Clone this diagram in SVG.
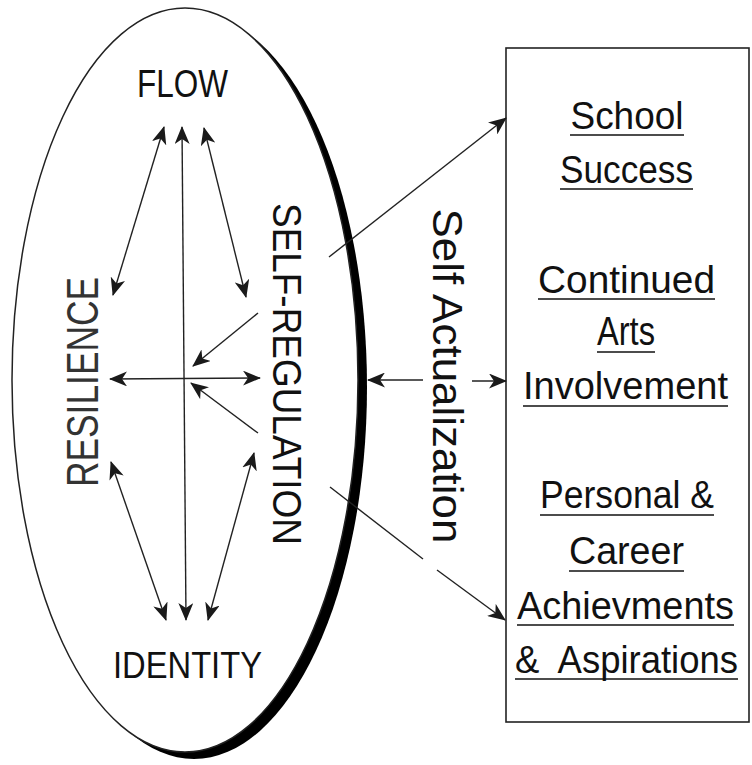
<svg xmlns="http://www.w3.org/2000/svg" width="752" height="765" viewBox="0 0 752 765">
<style>
.t{font-family:"Liberation Sans",Arial,sans-serif;fill:#111;white-space:pre}
.c{stroke:#222;stroke-width:1.4;fill:none}
.u{stroke:#111;stroke-width:1.6}
</style>
<defs>
<marker id="ah" viewBox="0 0 18 15" refX="17" refY="7.5" markerWidth="18" markerHeight="15" markerUnits="userSpaceOnUse" orient="auto-start-reverse">
<path d="M0,0 L18,7.5 L0,15 L5,7.5 z" fill="#1a1a1a"/>
</marker>
</defs>
<rect width="752" height="765" fill="#fff"/>
<g id="ellipse">
<ellipse cx="194" cy="387" rx="173" ry="372" fill="#000"/>
<ellipse cx="185" cy="380" rx="173" ry="372" fill="#fff" stroke="#222" stroke-width="1.5"/>
</g>
<g id="flow"><text class="t" x="182.5" y="97" font-size="38" text-anchor="middle" textLength="91" lengthAdjust="spacingAndGlyphs">FLOW</text></g>
<g id="identity"><text class="t" x="187.5" y="678" font-size="36" text-anchor="middle" textLength="149" lengthAdjust="spacingAndGlyphs">IDENTITY</text></g>
<g id="resilience"><text class="t" x="98" y="382" font-size="44" text-anchor="middle" textLength="210" lengthAdjust="spacingAndGlyphs" transform="rotate(-90 98 382)" style="fill:#333">RESILIENCE</text></g>
<g id="self-regulation"><text class="t" x="273" y="374" font-size="40" text-anchor="middle" textLength="342" lengthAdjust="spacingAndGlyphs" transform="rotate(90 273 374)">SELF-REGULATION</text></g>
<g id="self-actualization"><text class="t" x="433" y="376" font-size="42" text-anchor="middle" textLength="335" lengthAdjust="spacingAndGlyphs" transform="rotate(90 433 376)">Self Actualization</text></g>
<g id="outcomes">
<rect x="506" y="48" width="243" height="674" fill="none" stroke="#222" stroke-width="1.6"/>
<text class="t" x="627" y="129" font-size="38" text-anchor="middle" textLength="113" lengthAdjust="spacingAndGlyphs">School</text>
<line class="u" x1="570" y1="135" x2="684" y2="135"/>
<text class="t" x="626.5" y="183" font-size="38" text-anchor="middle" textLength="133" lengthAdjust="spacingAndGlyphs">Success</text>
<line class="u" x1="560" y1="189" x2="693" y2="189"/>
<text class="t" x="626.5" y="293" font-size="38" text-anchor="middle" textLength="177" lengthAdjust="spacingAndGlyphs">Continued</text>
<line class="u" x1="538" y1="299" x2="715" y2="299"/>
<text class="t" x="626" y="345" font-size="40" text-anchor="middle" textLength="58" lengthAdjust="spacingAndGlyphs">Arts</text>
<line class="u" x1="597" y1="352" x2="655" y2="352"/>
<text class="t" x="625.5" y="399" font-size="38" text-anchor="middle" textLength="205" lengthAdjust="spacingAndGlyphs">Involvement</text>
<line class="u" x1="523" y1="406" x2="728" y2="406"/>
<text class="t" x="627" y="508" font-size="38" text-anchor="middle" textLength="174" lengthAdjust="spacingAndGlyphs">Personal &amp;</text>
<line class="u" x1="540" y1="515" x2="714" y2="515"/>
<text class="t" x="626.5" y="564" font-size="38" text-anchor="middle" textLength="115" lengthAdjust="spacingAndGlyphs">Career</text>
<line class="u" x1="569" y1="571" x2="684" y2="571"/>
<text class="t" x="625.5" y="619" font-size="38" text-anchor="middle" textLength="217" lengthAdjust="spacingAndGlyphs">Achievments</text>
<line class="u" x1="517" y1="625" x2="734" y2="625"/>
<text class="t" x="626.5" y="673" font-size="38" text-anchor="middle" textLength="223" lengthAdjust="spacingAndGlyphs">&amp;  Aspirations</text>
<line class="u" x1="515" y1="679" x2="738" y2="679"/>
</g>
<g id="connectors">
<line class="c" x1="182" y1="127" x2="186" y2="620" stroke-width="2" marker-start="url(#ah)" marker-end="url(#ah)"/>
<line class="c" x1="110" y1="379" x2="260" y2="378" stroke-width="2" marker-start="url(#ah)" marker-end="url(#ah)"/>
<line class="c" x1="164" y1="127" x2="113" y2="295" marker-start="url(#ah)" marker-end="url(#ah)"/>
<line class="c" x1="204" y1="128" x2="246" y2="297" marker-start="url(#ah)" marker-end="url(#ah)"/>
<line class="c" x1="111" y1="462" x2="166" y2="620" marker-start="url(#ah)" marker-end="url(#ah)"/>
<line class="c" x1="254" y1="453" x2="208" y2="620" marker-start="url(#ah)" marker-end="url(#ah)"/>
<line class="c" x1="258" y1="313" x2="193" y2="366" marker-end="url(#ah)"/>
<line class="c" x1="258" y1="433" x2="191" y2="383" marker-end="url(#ah)"/>
<line class="c" x1="329" y1="257" x2="506" y2="118" marker-end="url(#ah)"/>
<line class="c" x1="330" y1="487" x2="423" y2="559"/>
<line class="c" x1="437" y1="570" x2="505" y2="620" marker-end="url(#ah)"/>
<line class="c" x1="423" y1="380" x2="368" y2="380" marker-end="url(#ah)"/>
<line class="c" x1="472" y1="381" x2="506" y2="381" marker-end="url(#ah)"/>
</g>
</svg>
